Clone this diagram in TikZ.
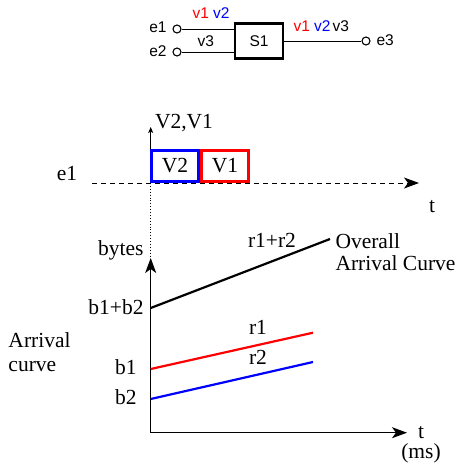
\documentclass[tikz,border=0pt]{standalone}
\usepackage{fontspec}
\setmainfont{Liberation Serif}
\newfontfamily\netfont{Liberation Sans}
\usetikzlibrary{arrows.meta,positioning}
\tikzset{
  port/.style = {circle, draw, line width = 1.1pt, inner sep = 0pt, minimum size = 8pt},
  switchbox/.style = {draw, line width = 2.2pt, minimum width = 48pt, minimum height = 35pt, inner sep = 0pt},
  nettext/.style = {font = \netfont\fontsize{15.5}{18}\selectfont, inner sep = 0pt},
  plottext/.style = {font = \fontsize{21.5}{23}\selectfont, inner sep = 0pt},
  frame/.style = {draw, line width = 2.4pt, minimum width = 47pt, minimum height = 31pt, inner sep = 0pt},
  bigtip/.style = {-{Stealth[length = 15pt, width = 11pt, inset = 4pt]}}
}
\begin{document}
\begin{tikzpicture}[x = 1pt, y = -1pt, line width = 1pt]
\useasboundingbox (0,0) rectangle (460,463);
% switch S1
\node[switchbox, nettext] (S1) at (259,41) {};
\node[nettext, anchor = base] (s1lab) at (259,46.7) {S1};
\node[port] (e1) at (177,29) {};
\node[port] (e2) at (177,52) {};
\node[port] (e3) at (366,41) {};
\draw (e1) -- (e1 -| S1.west);
\draw (e2) -- (e2 -| S1.west);
\draw (S1) -- (e3);
\node[nettext, anchor = base east] (e1lab) at (167,32) {e1};
\node[nettext, anchor = base east] (e2lab) at (167,56.7) {e2};
\node[nettext, anchor = base west] (e3lab) at (376,45.5) {e3};
\node[nettext, anchor = base west] (inflows) at (192,18.3) {\color{red}v1 \color{blue}v2};
\node[nettext, anchor = base west] (v3in) at (197,46.7) {v3};
\node[nettext, anchor = base west] (outflows) at (293,31.7) {\color{red}v1 \color{blue}v2\hspace{2pt}\color{black}v3};
% frames on e1
\coordinate (o1) at (150.7,183);
\draw[-{Stealth[length = 6pt, width = 5pt, inset = 1.5pt]}] (o1) -- (150.7,127);
\node[plottext, anchor = base west] (vtop) at (154.5,128) {V2,V1};
\node[frame, draw = blue, plottext] (V2) at (175,166) {V2};
\node[frame, draw = red, plottext] (V1) at (225,166) {V1};
\draw[dash pattern = on 5pt off 4pt, bigtip] (92,183) -- (419,183);
\node[plottext, anchor = base] (e1line) at (67,180) {e1};
\node[plottext, anchor = base] (t1) at (432,212) {t};
% arrival curves
\coordinate (o2) at (150.7,432.7);
\draw[dotted, line width = 0.9pt] (o1) -- (150.7,258);
\draw[line width = 1.3pt, bigtip] (o2) -- (150.7,258);
\draw[line width = 1.3pt, bigtip] (o2) -- (407,432.7);
\node[plottext, anchor = base east] (bytes) at (144,255) {bytes};
\node[plottext, anchor = base] (t2) at (421,438) {t};
\node[plottext, anchor = base] (ms) at (421,458) {(ms)};
\draw[line width = 2.2pt] (150.7,308) -- (330,239);
\draw[line width = 2.2pt, red] (150.7,369) -- (313,332.7);
\draw[line width = 2.2pt, blue] (150.7,399) -- (313,362);
\node[plottext, anchor = base] (r12) at (272,247) {r1+r2};
\node[plottext, anchor = base] (r1) at (258,334) {r1};
\node[plottext, anchor = base] (r2) at (258,364) {r2};
\node[plottext, anchor = base west] (over) at (335,248) {Overall};
\node[plottext, anchor = base west] (overcurve) at (335,270) {Arrival Curve};
\node[plottext, anchor = base east] (b12) at (144,314) {b1+b2};
\node[plottext, anchor = base east] (b1) at (137,374) {b1};
\node[plottext, anchor = base east] (b2) at (137,404) {b2};
\node[plottext, anchor = base west] (arr) at (8,347.7) {Arrival};
\node[plottext, anchor = base west] (curve) at (8,371) {curve};
\end{tikzpicture}
\end{document}
